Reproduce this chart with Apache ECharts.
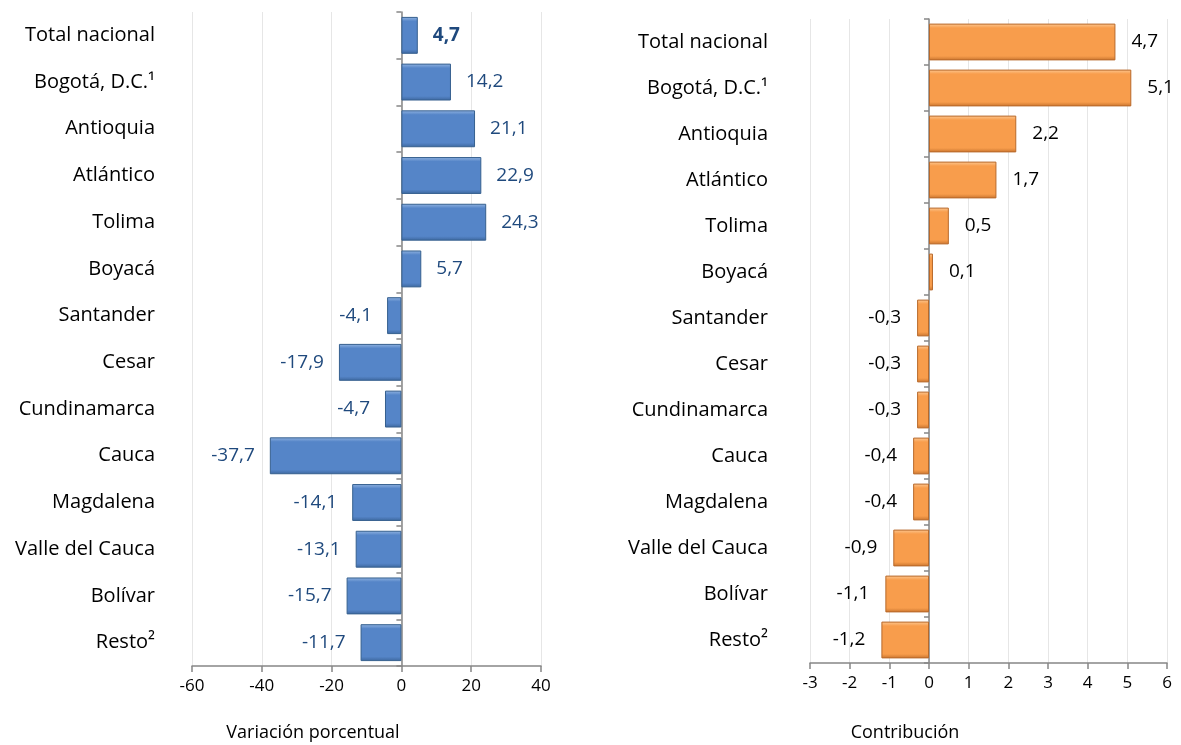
<!DOCTYPE html>
<html><head><meta charset="utf-8">
<script src="https://cdn.jsdelivr.net/npm/echarts@6/dist/echarts.min.js"></script>
<style>html,body{margin:0;padding:0;background:#fff}#c{width:1181px;height:745px}</style>
</head><body><div id="c"></div>
<script>
const categories = ['Total nacional','Bogotá, D.C.¹','Antioquia','Atlántico','Tolima','Boyacá','Santander','Cesar','Cundinamarca','Cauca','Magdalena','Valle del Cauca','Bolívar','Resto²'];
const variacion = [4.7,14.2,21.1,22.9,24.3,5.7,-4.1,-17.9,-4.7,-37.7,-14.1,-13.1,-15.7,-11.7];
const contribucion = [4.7,5.1,2.2,1.7,0.5,0.1,-0.3,-0.3,-0.3,-0.4,-0.4,-0.9,-1.1,-1.2];
const leftTicks = {min:-60,max:40,interval:20};
const rightTicks = {min:-3,max:6,interval:1};
const leftName = 'Variación porcentual';
const rightName = 'Contribución';

const FONT = '"Open Sans"';
const fmt = v => String(v).replace('.', ',');
function grad(light, mid, dark){
  return new echarts.graphic.LinearGradient(0,0,0,1,[
    {offset:0,color:light},{offset:0.12,color:mid},{offset:0.88,color:mid},{offset:1,color:dark}]);
}
const blueFill = grad('#93b5e2','#5585c8','#3d679e');
const orangeFill = grad('#fdc994','#f89d4c','#c8742e');

function makeData(vals, boldFirst){
  return vals.map((v,i)=>({
    value:v,
    label:{position: v>=0?'right':'left', fontWeight:(boldFirst&&i===0)?'bold':'normal'}
  }));
}

const chart = echarts.init(document.getElementById('c'));
const yLabelAxis = (grid, margin) => ({type:'category',gridIndex:grid,data:categories,inverse:true,position:'left',
  axisLine:{show:false,onZero:false},axisTick:{show:false},
  axisLabel:{margin:margin,color:'#000',fontSize:20,fontFamily:FONT}});
const yLineAxis = (grid, xIdx) => ({type:'category',gridIndex:grid,data:categories,inverse:true,position:'left',
  axisLine:{show:true,onZero:true,onZeroAxisIndex:xIdx,lineStyle:{color:'#868686',width:1.5}},
  axisTick:{show:true,length:5,lineStyle:{color:'#868686',width:1.5}},
  axisLabel:{show:false}});
const xAxis = (grid, t) => ({type:'value',gridIndex:grid,min:t.min,max:t.max,interval:t.interval,
  axisLine:{show:true,onZero:false,lineStyle:{color:'#868686',width:1.5}},
  axisTick:{show:true,length:6,lineStyle:{color:'#868686',width:1.5}},
  axisLabel:{color:'#000',fontSize:17,fontFamily:FONT,margin:12},
  splitLine:{show:true,lineStyle:{color:'#e6e6e6',width:1}}});

chart.setOption({
  animation:false,
  grid:[
    {left:192,width:349,top:12,height:654},
    {left:810,width:357,top:19,height:644}
  ],
  xAxis:[xAxis(0,leftTicks), xAxis(1,rightTicks)],
  yAxis:[yLabelAxis(0,37), yLineAxis(0,0), yLabelAxis(1,42), yLineAxis(1,1)],
  graphic:[
    {type:'text',x:313,y:733,style:{text:leftName,fill:'#000',font:'18px "Open Sans"',textAlign:'center',textVerticalAlign:'middle'}},
    {type:'text',x:905,y:733,style:{text:rightName,fill:'#000',font:'18px "Open Sans"',textAlign:'center',textVerticalAlign:'middle'}}
  ],
  series:[
    {type:'bar',xAxisIndex:0,yAxisIndex:0,data:makeData(variacion,true),barCategoryGap:'21%',
     itemStyle:{color:blueFill,borderColor:'#36608f',borderWidth:1},
     label:{show:true,distance:15,color:'#1f497d',fontSize:19,fontFamily:FONT,formatter:p=>fmt(p.value)}},
    {type:'bar',xAxisIndex:1,yAxisIndex:2,data:makeData(contribucion,false),barCategoryGap:'20%',
     itemStyle:{color:orangeFill,borderColor:'#b8692a',borderWidth:1},
     label:{show:true,distance:16,color:'#000',fontSize:19,fontFamily:FONT,formatter:p=>fmt(p.value)}}
  ]
});
</script></body></html>
